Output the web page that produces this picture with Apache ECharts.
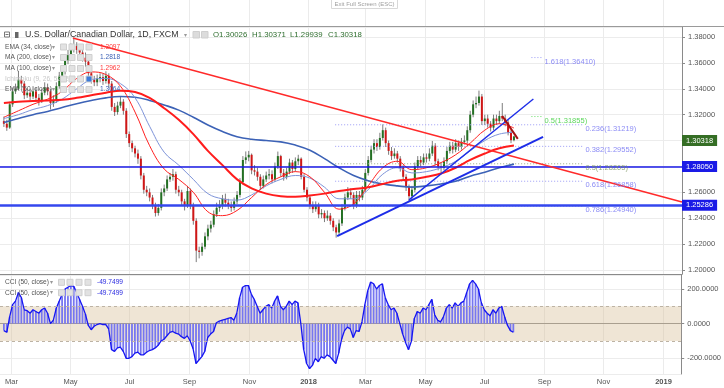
<!DOCTYPE html>
<html><head><meta charset="utf-8">
<script src="https://cdn.jsdelivr.net/npm/echarts/dist/echarts.min.js"></script>
<style>html,body{margin:0;padding:0;background:#fff}#c{width:724px;height:388px}</style>
</head><body><div id="c"></div>
<script>
// ---------------- DATA ----------------
const startDate = '2017-02-22';
const stepDays = 3;
const firstOpen = 1.3150;
const closes = [1.3130,1.3100,1.3280,1.3380,1.3400,1.3470,1.3440,1.3350,1.3370,1.3340,
 1.3380,1.3330,1.3310,1.3370,1.3410,1.3380,1.3290,1.3310,1.3420,1.3500,
 1.3530,1.3620,1.3660,1.3700,1.3730,1.3700,1.3680,1.3640,1.3610,1.3520,
 1.3470,1.3450,1.3480,1.3490,1.3460,1.3500,1.3440,1.3260,1.3220,1.3270,
 1.3300,1.3230,1.3050,1.2980,1.2940,1.2900,1.2860,1.2730,1.2620,1.2600,
 1.2560,1.2500,1.2440,1.2480,1.2600,1.2630,1.2700,1.2720,1.2740,1.2620,
 1.2600,1.2530,1.2500,1.2610,1.2500,1.2380,1.2150,1.2140,1.2180,1.2260,
 1.2320,1.2350,1.2430,1.2480,1.2500,1.2550,1.2520,1.2500,1.2480,1.2530,
 1.2580,1.2680,1.2850,1.2870,1.2890,1.2770,1.2760,1.2720,1.2650,1.2700,
 1.2730,1.2740,1.2700,1.2800,1.2880,1.2750,1.2720,1.2760,1.2830,1.2780,
 1.2840,1.2860,1.2720,1.2620,1.2560,1.2500,1.2470,1.2500,1.2430,1.2440,
 1.2400,1.2420,1.2380,1.2330,1.2290,1.2360,1.2480,1.2560,1.2600,1.2580,
 1.2500,1.2580,1.2560,1.2620,1.2750,1.2850,1.2930,1.2980,1.2950,1.3020,
 1.3080,1.2980,1.2920,1.2880,1.2900,1.2860,1.2790,1.2720,1.2640,1.2570,
 1.2620,1.2800,1.2850,1.2830,1.2870,1.2860,1.2900,1.2960,1.2840,1.2800,
 1.2790,1.2840,1.2920,1.2960,1.2930,1.2980,1.2950,1.2990,1.3000,1.3080,
 1.3200,1.3280,1.3290,1.3340,1.3150,1.3170,1.3130,1.3100,1.3170,1.3150,
 1.3190,1.3170,1.3140,1.3060,1.30026,1.30318];
const highs = [1.3185,1.3160,1.3300,1.3410,1.3440,1.3535,1.3500,1.3460,1.3400,1.3400,
 1.3420,1.3410,1.3360,1.3400,1.3450,1.3440,1.3400,1.3350,1.3450,1.3530,
 1.3570,1.3660,1.3700,1.3750,1.3793,1.3760,1.3740,1.3710,1.3680,1.3630,
 1.3550,1.3500,1.3510,1.3520,1.3520,1.3535,1.3520,1.3460,1.3290,1.3300,
 1.3340,1.3320,1.3250,1.3070,1.3000,1.2960,1.2930,1.2880,1.2750,1.2650,
 1.2630,1.2580,1.2520,1.2510,1.2630,1.2660,1.2730,1.2750,1.2780,1.2760,
 1.2650,1.2620,1.2550,1.2650,1.2630,1.2520,1.2400,1.2180,1.2210,1.2290,
 1.2350,1.2380,1.2460,1.2520,1.2540,1.2580,1.2590,1.2550,1.2530,1.2560,
 1.2610,1.2710,1.2880,1.2916,1.2920,1.2900,1.2810,1.2790,1.2740,1.2730,
 1.2760,1.2780,1.2770,1.2830,1.2915,1.2890,1.2780,1.2790,1.2860,1.2850,
 1.2870,1.2890,1.2870,1.2740,1.2640,1.2580,1.2530,1.2530,1.2520,1.2470,
 1.2460,1.2460,1.2440,1.2400,1.2350,1.2390,1.2510,1.2590,1.2640,1.2630,
 1.2600,1.2610,1.2610,1.2650,1.2780,1.2880,1.2960,1.3010,1.3010,1.3060,
 1.3125,1.3100,1.3000,1.2950,1.2940,1.2920,1.2880,1.2810,1.2740,1.2660,
 1.2650,1.2830,1.2880,1.2880,1.2900,1.2900,1.2940,1.2997,1.2980,1.2860,
 1.2830,1.2870,1.2950,1.2990,1.2990,1.3010,1.3000,1.3020,1.3040,1.3110,
 1.3230,1.3310,1.3340,1.3386,1.3360,1.3200,1.3200,1.3150,1.3200,1.3200,
 1.3230,1.3290,1.3200,1.3160,1.3080,1.30371];
const lows = [1.3105,1.3075,1.3090,1.3260,1.3360,1.3390,1.3410,1.3320,1.3330,1.3310,
 1.3320,1.3300,1.3270,1.3290,1.3350,1.3350,1.3240,1.3260,1.3290,1.3400,
 1.3470,1.3510,1.3590,1.3640,1.3680,1.3670,1.3650,1.3610,1.3570,1.3480,
 1.3440,1.3420,1.3420,1.3450,1.3430,1.3440,1.3410,1.3230,1.3190,1.3200,
 1.3250,1.3200,1.3020,1.2950,1.2910,1.2870,1.2820,1.2700,1.2590,1.2570,
 1.2530,1.2470,1.2413,1.2420,1.2460,1.2570,1.2610,1.2680,1.2690,1.2590,
 1.2570,1.2500,1.2460,1.2480,1.2470,1.2350,1.2061,1.2090,1.2110,1.2160,
 1.2230,1.2290,1.2330,1.2410,1.2450,1.2470,1.2490,1.2470,1.2450,1.2460,
 1.2510,1.2560,1.2660,1.2820,1.2840,1.2740,1.2730,1.2690,1.2620,1.2630,
 1.2680,1.2700,1.2670,1.2680,1.2780,1.2720,1.2690,1.2700,1.2740,1.2750,
 1.2760,1.2810,1.2700,1.2600,1.2530,1.2470,1.2440,1.2450,1.2400,1.2400,
 1.2370,1.2380,1.2350,1.2300,1.2250,1.2270,1.2340,1.2460,1.2540,1.2550,
 1.2470,1.2480,1.2530,1.2540,1.2600,1.2730,1.2830,1.2900,1.2920,1.2930,
 1.3000,1.2950,1.2890,1.2850,1.2860,1.2830,1.2760,1.2690,1.2610,1.2528,
 1.2540,1.2600,1.2780,1.2800,1.2810,1.2830,1.2840,1.2880,1.2810,1.2770,
 1.2750,1.2770,1.2820,1.2900,1.2900,1.2910,1.2920,1.2930,1.2970,1.2980,
 1.3060,1.3180,1.3250,1.3270,1.3120,1.3120,1.3100,1.3070,1.3080,1.3120,
 1.3130,1.3150,1.3110,1.3040,1.2980,1.29939];
const cci = [-40,-50,40,110,130,180,150,80,75,60,
 80,70,60,80,90,60,0,20,90,130,
 170,200,210,220,215,180,140,100,55,-10,
 -35,-15,-5,0,-5,-5,-30,-150,-160,-140,
 -135,-160,-200,-200,-190,-170,-165,-180,-180,-165,
 -155,-150,-140,-125,-100,-90,-70,-50,-45,-55,
 -60,-75,-85,-70,-100,-145,-230,-210,-190,-160,
 -80,-60,-45,5,15,20,25,30,35,20,
 60,150,210,220,220,170,140,100,60,80,
 100,110,90,130,160,100,80,100,130,110,
 130,120,0,-150,-230,-260,-240,-200,-220,-190,
 -200,-180,-190,-210,-230,-170,-90,-40,-20,-30,
 -80,-40,-45,10,110,190,240,230,200,220,
 230,150,110,80,90,60,0,-60,-110,-150,
 -100,30,70,60,90,80,110,140,50,20,
 10,40,90,110,90,120,100,120,130,180,
 230,250,230,200,120,80,60,45,80,60,
 90,100,40,-10,-40,-49.7499];
// moving averages sampled every 5th bar
const maStepBars = 5;
const ema34 = [1.3180,1.3230,1.3280,1.3320,1.3380,1.3480,1.3530,1.3510,1.3420,1.3220,
 1.2960,1.2780,1.2700,1.2600,1.2450,1.2420,1.2460,1.2560,1.2660,1.2720,
 1.2760,1.2720,1.2600,1.2470,1.2510,1.2650,1.2790,1.2840,1.2775,1.2790,
 1.2830,1.2890,1.2980,1.3080,1.3130,1.3097];
const ema50 = [1.3170,1.3200,1.3240,1.3270,1.3320,1.3400,1.3470,1.3480,1.3440,1.3330,
 1.3110,1.2910,1.2810,1.2700,1.2590,1.2550,1.2540,1.2580,1.2650,1.2700,
 1.2730,1.2710,1.2640,1.2550,1.2550,1.2620,1.2740,1.2790,1.2750,1.2760,
 1.2790,1.2840,1.2920,1.3000,1.3050,1.3064];
const ma100 = [1.3290,1.3300,1.3305,1.3310,1.3315,1.3330,1.3350,1.3370,1.3385,1.3375,
 1.3330,1.3250,1.3160,1.3050,1.2920,1.2810,1.2700,1.2630,1.2590,1.2570,
 1.2565,1.2575,1.2590,1.2610,1.2625,1.2640,1.2665,1.2690,1.2700,1.2720,
 1.2745,1.2790,1.2850,1.2900,1.2940,1.2962];
const ma200 = [1.3140,1.3170,1.3200,1.3225,1.3255,1.3285,1.3310,1.3330,1.3340,1.3335,
 1.3310,1.3275,1.3235,1.3180,1.3120,1.3070,1.3030,1.3010,1.3000,1.2990,
 1.2965,1.2925,1.2860,1.2790,1.2730,1.2690,1.2665,1.2650,1.2640,1.2650,
 1.2665,1.2685,1.2725,1.2755,1.2790,1.2818];
// drawings
const hLevels = [1.28050, 1.25286];
const fibRatios = ['0.236','0.382','0.5','0.618','0.786'];
const fibPrices = [1.31219,1.29552,1.28205,1.26858,1.24940];
const fibRange = ['2018-01-29','2018-10-11'];
const extRatios = ['1.618','0.5'];
const extPrices = [1.36410,1.31855];
const extRange = ['2018-08-19','2018-08-30'];
const redTrend = [['2017-05-04',1.3792],['2019-01-21',1.2525]];
const blueTrend1 = [['2018-01-31',1.2262],['2018-08-31',1.3028]];
const blueTrend2 = [['2018-04-15',1.2542],['2018-08-21',1.3321]];
const shortTrend = [['2018-07-20',1.3190],['2018-08-05',1.3013]];
const monthTicks = ['2017-03-01','2017-05-01','2017-07-01','2017-09-01','2017-11-01','2018-01-01',
 '2018-03-01','2018-05-01','2018-07-01','2018-09-01','2018-11-01','2019-01-01'];
const monthLabels = ['Mar','May','Jul','Sep','Nov','2018','Mar','May','Jul','Sep','Nov','2019'];
const xRange = ['2017-02-18','2019-01-21'];

// ---------------- BUILD ----------------
const FONT = "'Liberation Sans', Arial, sans-serif";
const DAY = 86400000;
const ts = s => Date.parse(s + 'T00:00:00Z');
const t0 = ts(startDate);
const X0 = ts(xRange[0]), X1 = ts(xRange[1]);
const candleData = closes.map((c, i) => [t0 + i * stepDays * DAY, i ? closes[i - 1] : firstOpen, c, lows[i], highs[i]]);
const cciData = cci.map((v, i) => [t0 + i * stepDays * DAY, v]);
const maData = arr => arr.map((v, k) => [t0 + k * maStepBars * stepDays * DAY, v]);
const pts = arr => arr.map(p => [ts(p[0]), p[1]]);
const last = a => a[a.length - 1];

const chart = echarts.init(document.getElementById('c'), null, {renderer: 'canvas'});
const series = [];

// month gridlines + labels
series.push({
  type: 'custom', xAxisIndex: 0, yAxisIndex: 0, clip: false, silent: true, z: 0,
  data: monthTicks.map(d => [ts(d), 1.3]),
  renderItem: (params, api) => {
    const x = Math.round(api.coord([api.value(0), 1.3])[0]) + 0.5;
    const lab = monthLabels[params.dataIndex];
    const bold = /^\d{4}$/.test(lab);
    return {type: 'group', children: [
      {type: 'line', shape: {x1: x, y1: 0, x2: x, y2: 374}, style: {stroke: '#ebebeb', lineWidth: 1}},
      {type: 'text', x: x, y: 381.5, style: {text: lab, fill: '#555', fontSize: 7.5, fontWeight: bold ? 'bold' : 'normal', fontFamily: FONT, align: 'center', verticalAlign: 'middle'}}
    ]};
  }
});

// candles
series.push({
  type: 'custom', name: 'USDCAD', xAxisIndex: 0, yAxisIndex: 0, z: 3, clip: true, silent: true,
  data: candleData, encode: {x: 0, y: [1, 2, 3, 4]},
  renderItem: (params, api) => {
    const x = api.value(0), o = api.value(1), c = api.value(2), l = api.value(3), h = api.value(4);
    const pO = api.coord([x, o]), pC = api.coord([x, c]), pL = api.coord([x, l]), pH = api.coord([x, h]);
    const up = c >= o;
    const bw = 2;
    const top = Math.min(pO[1], pC[1]);
    const bh = Math.max(1, Math.abs(pO[1] - pC[1]));
    return {type: 'group', children: [
      {type: 'line', shape: {x1: pH[0], y1: pH[1], x2: pL[0], y2: pL[1]}, style: {stroke: '#7c7c7c', lineWidth: 1}},
      {type: 'rect', shape: {x: pO[0] - bw / 2, y: top, width: bw, height: bh}, style: {fill: up ? '#237023' : '#d01616'}}
    ]};
  }
});

const lineSer = (data, color, width, z, type, smooth) => ({
  type: 'line', xAxisIndex: 0, yAxisIndex: 0, data, symbol: 'none', silent: true, z: z,
  smooth: smooth || false, lineStyle: {color, width, type: type || 'solid'}
});
series.push(lineSer(maData(ma200), '#3c62b6', 1.6, 4, 'solid', 0.4));
series.push(lineSer(maData(ema50), '#7d93d9', 1, 4, 'solid', 0.4));
series.push(lineSer(maData(ma100), '#ff1c1c', 2, 4, 'solid', 0.4));
series.push(lineSer(maData(ema34), '#ff2020', 1, 4, 'solid', 0.4));
series.push(lineSer(pts(redTrend), '#ff2a2a', 1.4, 5));
series.push(lineSer(pts(blueTrend1), '#1d2de8', 2, 5));
series.push(lineSer(pts(blueTrend2), '#1d2de8', 1.4, 5));
series.push(lineSer(pts(shortTrend), '#a51212', 2, 5));

// fib lines
const fibLine = ['#9a9af5', '#9a9af5', '#9aaa80', '#9a9af5', '#9a9af5'];
const fibText = ['#6e6ef2', '#6e6ef2', '#7c9460', '#6e6ef2', '#6e6ef2'];
fibPrices.forEach((p, i) => series.push(lineSer([[ts(fibRange[0]), p], [ts(fibRange[1]), p]], fibLine[i], 1, 3, [1, 2])));
const extLine = ['#9a9af5', '#66dd66'];
const extText = ['#6e6ef2', '#33cc33'];
extPrices.forEach((p, i) => series.push(lineSer([[ts(extRange[0]), p], [ts(extRange[1]), p]], extLine[i], 1, 3, [1, 2])));
const fibLabelData = fibPrices.map((p, i) => ({value: [ts(fibRange[1]), p], name: fibRatios[i] + '(' + p.toFixed(5) + ')', label: {color: fibText[i]}}))
  .concat(extPrices.map((p, i) => ({value: [ts(extRange[1]), p], name: extRatios[i] + '(' + p.toFixed(5) + ')', label: {color: extText[i]}})));
series.push({
  type: 'scatter', xAxisIndex: 0, yAxisIndex: 0, symbolSize: 1, itemStyle: {color: 'rgba(0,0,0,0)'}, z: 6, silent: true,
  data: fibLabelData,
  label: {show: true, position: 'right', distance: 2, offset: [0, 4], formatter: '{b}', fontSize: 7.5, fontFamily: FONT}
});

// horizontal levels + axis price tags
const tag = (bg, v) => ({show: true, position: 'end', distance: 0, formatter: v.toFixed(5),
  backgroundColor: bg, color: '#fff', padding: [2, 4, 1, 4], fontSize: 7.5, fontFamily: FONT});
series.push({
  type: 'line', xAxisIndex: 0, yAxisIndex: 0, data: [[X0, 1.3]], symbol: 'none', lineStyle: {opacity: 0}, z: 7, silent: true,
  markLine: {silent: true, symbol: 'none', animation: false, data: [
    {yAxis: hLevels[0], lineStyle: {color: '#1a1ae6', width: 1.6, type: 'solid'}, label: tag('#1a1ae6', hLevels[0])},
    {yAxis: hLevels[1], lineStyle: {color: '#3447ee', width: 2.6, type: 'solid'}, label: tag('#1a1ae6', hLevels[1])},
    {yAxis: last(closes), lineStyle: {color: 'rgba(0,0,0,0)', width: 0}, label: tag('#356e25', last(closes))}
  ]}
});

// CCI
series.push({
  type: 'line', xAxisIndex: 1, yAxisIndex: 1, data: [[X0, 0]], symbol: 'none', lineStyle: {opacity: 0}, z: 1, silent: true,
  markArea: {silent: true, itemStyle: {color: 'rgba(214,190,150,0.40)'}, data: [[{yAxis: -100}, {yAxis: 100}]]},
  markLine: {silent: true, symbol: 'none', label: {show: false}, lineStyle: {color: '#bdb3a4', type: [3, 3], width: 1}, data: [{yAxis: 100}, {yAxis: -100}]}
});
series.push({type: 'bar', xAxisIndex: 1, yAxisIndex: 1, data: cciData, barWidth: 1.8, itemStyle: {color: '#7676f0'}, z: 2, silent: true});
series.push({type: 'line', xAxisIndex: 1, yAxisIndex: 1, data: cciData, symbol: 'none', lineStyle: {color: '#1515f2', width: 1.3}, z: 3, silent: true});

const axX = gi => ({type: 'value', gridIndex: gi, min: X0, max: X1, position: 'bottom',
  axisLine: {show: true, lineStyle: {color: '#8a8a8a'}}, axisTick: {show: false}, axisLabel: {show: false}, splitLine: {show: false}});
const priceFmt = v => Math.abs(v * 50 - Math.round(v * 50)) < 1e-6 ? v.toFixed(5) : '';
const cciFmt = v => Math.abs(v / 200 - Math.round(v / 200)) < 1e-6 ? v.toFixed(4) : '';

// graphics (header/legends)
const G = [];
const T = (x, y, s, fill, size, extra) => G.push(Object.assign({type: 'text', x, y, z: 50,
  style: {text: s, fill, fontSize: size, fontFamily: FONT, align: 'left', verticalAlign: 'middle'}}, extra || {}));
const R = (x, y, w, h, fill, stroke) => G.push({type: 'rect', z: 50, shape: {x, y, width: w, height: h}, style: {fill, stroke: stroke || null, lineWidth: 1}});
G.push({type: 'line', z: 50, shape: {x1: 0, y1: 26.5, x2: 724, y2: 26.5}, style: {stroke: '#9a9a9a', lineWidth: 1}});
R(331.5, -1.5, 66, 10, '#fff', '#d8d8d8');
G.push({type: 'text', z: 51, x: 364.5, y: 4, style: {text: 'Exit Full Screen (ESC)', fill: '#a0a0a0', fontSize: 6, fontFamily: FONT, align: 'center', verticalAlign: 'middle'}});
// title row
R(4.5, 32, 5, 5, 'rgba(0,0,0,0)', '#777');
G.push({type: 'line', z: 50, shape: {x1: 5.5, y1: 34.5, x2: 8.5, y2: 34.5}, style: {stroke: '#777', lineWidth: 1}});
R(15, 32, 3.5, 6, '#666');
T(25, 35, 'U.S. Dollar/Canadian Dollar, 1D, FXCM', '#333', 8.8);
T(184, 35, '▾', '#999', 6);
R(193, 31.5, 6.5, 6.5, '#dcdcdc', '#cfcfcf'); R(201.5, 31.5, 6.5, 6.5, '#dcdcdc', '#cfcfcf');
const ohlc = [['O', closes[closes.length - 2]], ['H', last(highs)], ['L', last(lows)], ['C', last(closes)]];
const ohlcX = [213, 252, 290, 328];
ohlc.forEach((p, i) => T(ohlcX[i], 35, p[0] + p[1].toFixed(5), '#2f6e2f', 7.8));
// indicator legend
const rows = [
  ['EMA (34, close)', 47, last(ema34), '#ff3b3b'],
  ['MA (200, close)', 57.5, last(ma200), '#3c62b6'],
  ['MA (100, close)', 68.5, last(ma100), '#ff3b3b'],
  ['Ichimoku (9, 26, 52, 26)', 79, null, '#ccc'],
  ['EMA (50, close)', 89.5, last(ema50), '#3c62b6']
];
rows.forEach(r => {
  const faded = r[2] === null;
  T(5, r[1], r[0], faded ? '#c8c8c8' : '#555', 6.6);
  if (!faded) T(52, r[1], '▾', '#999', 5.5);
  [60.5, 69, 77.5, 86].forEach((x, j) => R(x, r[1] - 3, 6, 6, (faded && j === 3) ? '#3d7bd9' : '#e2e2e2', '#cfcfcf'));
  if (!faded) T(100, r[1], r[2].toFixed(4), r[3], 6.6);
});
[282.3, 292.7].forEach(y => {
  T(5, y, 'CCI (50, close)', '#555', 6.6);
  T(50, y, '▾', '#999', 5.5);
  [58.5, 67, 76, 85].forEach(x => R(x, y - 3, 6, 6, '#e2e2e2', '#cfcfcf'));
  T(97, y, last(cci).toFixed(4), '#2a2ae0', 6.6);
});

chart.setOption({
  animation: false,
  backgroundColor: '#fff',
  grid: [
    {left: 0, right: 42, top: 27, height: 247},
    {left: 0, right: 42, top: 275, height: 99}
  ],
  xAxis: [axX(0), axX(1)],
  yAxis: [
    {type: 'value', gridIndex: 0, position: 'right', min: 1.196911, max: 1.387722, splitNumber: 10,
     axisLine: {show: true, lineStyle: {color: '#8a8a8a'}}, axisTick: {show: true, length: 3, lineStyle: {color: '#8a8a8a'}},
     axisLabel: {formatter: priceFmt, fontSize: 7.5, color: '#555', margin: 6, fontFamily: FONT, showMinLabel: false, showMaxLabel: false},
     splitLine: {show: true, lineStyle: {color: '#ececec'}}},
    {type: 'value', gridIndex: 1, position: 'right', min: -290.6, max: 280.8, splitNumber: 3,
     axisLine: {show: true, lineStyle: {color: '#8a8a8a'}}, axisTick: {show: true, length: 3, lineStyle: {color: '#8a8a8a'}},
     axisLabel: {formatter: cciFmt, fontSize: 7.5, color: '#555', margin: 6, fontFamily: FONT, showMinLabel: false, showMaxLabel: false},
     splitLine: {show: true, lineStyle: {color: '#ececec'}}}
  ],
  series: series,
  graphic: {elements: G}
});
</script></body></html>
